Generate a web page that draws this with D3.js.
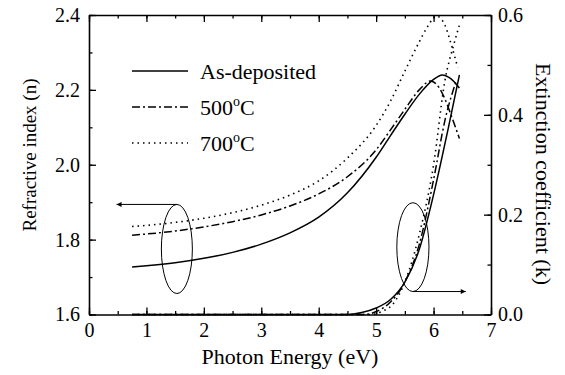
<!DOCTYPE html>
<html>
<head>
<meta charset="utf-8">
<script src="https://cdn.jsdelivr.net/npm/d3@7"></script>
<style>
  body { margin: 0; background: #fff; }
  svg text { font-family: "Liberation Serif", "Times New Roman", "DejaVu Serif", serif !important; fill: #000; }
</style>
</head>
<body>
<div id="chart"></div>
<script>
// refractive index n
var eAsDepN = [0.75, 1, 1.5, 2, 2.5, 3, 3.5, 4, 4.5, 5, 5.25, 5.5, 5.75, 6, 6.15, 6.3, 6.45];
var nAsDep  = [1.727, 1.730, 1.738, 1.750, 1.766, 1.788, 1.818, 1.860, 1.925, 2.020, 2.078, 2.135, 2.188, 2.228, 2.240, 2.230, 2.205];
var e500N = [0.75, 1, 1.5, 2, 2.5, 3, 3.5, 4, 4.5, 5, 5.25, 5.5, 5.75, 5.95, 6.1, 6.2, 6.3, 6.45];
var n500  = [1.812, 1.815, 1.823, 1.834, 1.848, 1.866, 1.890, 1.922, 1.968, 2.040, 2.093, 2.148, 2.200, 2.224, 2.205, 2.175, 2.135, 2.070];
var e700N = [0.75, 1, 1.5, 2, 2.5, 3, 3.5, 4, 4.5, 5, 5.25, 5.5, 5.75, 5.9, 6.05, 6.2, 6.3, 6.42];
var n700  = [1.835, 1.838, 1.846, 1.857, 1.872, 1.892, 1.919, 1.957, 2.018, 2.105, 2.170, 2.250, 2.328, 2.370, 2.397, 2.372, 2.325, 2.260];

// extinction coefficient k
var eAsDepK = [0.75, 4.5, 4.75, 5, 5.25, 5.5, 5.75, 6, 6.25, 6.45];
var kAsDep  = [0, 0, 0.004, 0.013, 0.030, 0.065, 0.130, 0.240, 0.370, 0.480];
var e500K = [0.75, 4.8, 5, 5.25, 5.5, 5.75, 6, 6.2, 6.4];
var k500  = [0, 0, 0.006, 0.025, 0.065, 0.140, 0.270, 0.390, 0.470];
var e700K = [0.75, 4.9, 5.1, 5.3, 5.5, 5.75, 6, 6.2, 6.35, 6.45];
var k700  = [0, 0, 0.006, 0.022, 0.065, 0.160, 0.300, 0.470, 0.540, 0.580];

var seriesNames = ["As-deposited", "500", "700"];
var xTicks = [0, 1, 2, 3, 4, 5, 6, 7];
var nTicks = [1.6, 1.8, 2.0, 2.2, 2.4];
var kTicks = [0.0, 0.2, 0.4, 0.6];

var W = 565, H = 375;
var FONT = "'Liberation Serif', 'Times New Roman', 'DejaVu Serif', serif";
var margin = {top: 15, right: 74, bottom: 60.5, left: 89},
    width = W - margin.left - margin.right,
    height = H - margin.top - margin.bottom;

var svg = d3.select("#chart").append("svg")
  .attr("width", W).attr("height", H)
  .attr("font-family", FONT);
var g = svg.append("g")
  .attr("transform", "translate(" + margin.left + "," + margin.top + ")");

var x = d3.scaleLinear().domain([0, 7]).range([0, width]);
var yN = d3.scaleLinear().domain([1.6, 2.4]).range([height, 0]);
var yK = d3.scaleLinear().domain([0, 0.6]).range([height, 0]);

var styles = [
  {dash: null, w: 1.5},
  {dash: "8,3,2,3", w: 1.5},
  {dash: "1.5,4", w: 1.6}
];

// axes with inward ticks
function minorTicks(scale, step) {
  var d = scale.domain(), out = [];
  for (var v = d[0]; v <= d[1] + 1e-9; v += step) out.push(+v.toFixed(3));
  return out;
}
function frame(axis, minorVals, majorVals, transform, fmt) {
  g.append("g").attr("transform", transform)
    .call(axis.tickValues(minorVals).tickSize(-3.5).tickFormat(""))
    .call(function(s){ s.select(".domain").remove(); s.selectAll("line").attr("stroke", "#000").attr("stroke-width", 1.3); });
  var a = g.append("g").attr("transform", transform)
    .call(axis.tickValues(majorVals).tickSize(-7).tickSizeOuter(0).tickPadding(10).tickFormat(fmt))
    .attr("font-family", FONT).attr("font-size", 20);
  a.select(".domain").attr("stroke", "#000").attr("stroke-width", 1.6);
  a.selectAll("line").attr("stroke", "#000").attr("stroke-width", 1.3);
  a.selectAll("text").attr("fill", "#000").style("font-size", "20px");
  return a;
}
frame(d3.axisBottom(x), minorTicks(x, 0.5), xTicks, "translate(0," + height + ")", d3.format("d"))
  .selectAll("text").attr("dy", "0.66em").attr("y", 9);
frame(d3.axisTop(x), minorTicks(x, 0.5), xTicks, "translate(0,0)", function(){ return ""; });
frame(d3.axisLeft(yN), minorTicks(yN, 0.1), nTicks, "translate(0,0)", d3.format(".1f"))
  .selectAll("text").attr("x", -9);
frame(d3.axisRight(yK), minorTicks(yK, 0.1), kTicks, "translate(" + width + ",0)", d3.format(".1f"))
  .selectAll("text").attr("x", 7);

// curves
function draw(es, vs, yScale, style) {
  var pts = es.map(function(e, i){ return [e, vs[i]]; });
  var line = d3.line()
    .x(function(d){ return x(d[0]); })
    .y(function(d){ return yScale(d[1]); })
    .curve(d3.curveMonotoneX);
  g.append("path").datum(pts)
    .attr("d", line)
    .attr("fill", "none")
    .attr("stroke", "#000")
    .attr("stroke-width", style.w)
    .attr("stroke-dasharray", style.dash);
}
draw(eAsDepN, nAsDep, yN, styles[0]);
draw(e500N, n500, yN, styles[1]);
draw(e700N, n700, yN, styles[2]);
draw(eAsDepK, kAsDep, yK, styles[0]);
draw(e500K, k500, yK, styles[1]);
draw(e700K, k700, yK, styles[2]);

// ellipse + arrow annotations
svg.append("defs").append("marker")
  .attr("id", "head").attr("viewBox", "0 0 10 10")
  .attr("refX", 10).attr("refY", 5)
  .attr("markerWidth", 7).attr("markerHeight", 5)
  .attr("markerUnits", "userSpaceOnUse")
  .attr("orient", "auto")
  .append("path").attr("d", "M0,0L10,5L0,10z").attr("fill", "#000");

var leftEl = {e: 1.53, v: 1.775, re: 0.27, rv: 0.119, arrowTo: 0.48};
var rightEl = {e: 5.64, v: 0.135, re: 0.28, rv: 0.089, arrowTo: 6.56};

g.append("ellipse")
  .attr("cx", x(leftEl.e)).attr("cy", yN(leftEl.v))
  .attr("rx", x(leftEl.re) - x(0)).attr("ry", yN(1.6) - yN(1.6 + leftEl.rv))
  .attr("fill", "none").attr("stroke", "#000").attr("stroke-width", 1);
g.append("line")
  .attr("x1", x(leftEl.e)).attr("y1", yN(leftEl.v + leftEl.rv))
  .attr("x2", x(leftEl.arrowTo)).attr("y2", yN(leftEl.v + leftEl.rv))
  .attr("stroke", "#000").attr("stroke-width", 1)
  .attr("marker-end", "url(#head)");

g.append("ellipse")
  .attr("cx", x(rightEl.e)).attr("cy", yK(rightEl.v))
  .attr("rx", x(rightEl.re) - x(0)).attr("ry", yK(0) - yK(rightEl.rv))
  .attr("fill", "none").attr("stroke", "#000").attr("stroke-width", 1);
g.append("line")
  .attr("x1", x(rightEl.e)).attr("y1", yK(rightEl.v - rightEl.rv))
  .attr("x2", x(rightEl.arrowTo)).attr("y2", yK(rightEl.v - rightEl.rv))
  .attr("stroke", "#000").attr("stroke-width", 1)
  .attr("marker-end", "url(#head)");

// legend
var legend = svg.append("g").attr("transform", "translate(132,0)");
var rowY = [79, 115, 151];
seriesNames.forEach(function(name, i) {
  legend.append("line")
    .attr("x1", 0).attr("x2", 56)
    .attr("y1", rowY[i] - 8).attr("y2", rowY[i] - 8)
    .attr("stroke", "#000")
    .attr("stroke-width", styles[i].w)
    .attr("stroke-dasharray", styles[i].dash);
  var t = legend.append("text").attr("x", 68).attr("y", rowY[i]).style("font-size", "22px");
  if (i == 0) {
    t.text(name);
  } else {
    t.append("tspan").text(name);
    t.append("tspan").attr("dy", -9).style("font-size", "14px").text("o");
    t.append("tspan").attr("dy", 9).text("C");
  }
});

// axis titles
svg.append("text")
  .attr("x", margin.left + width / 2).attr("y", 364)
  .attr("text-anchor", "middle").style("font-size", "22px")
  .text("Photon Energy (eV)");
svg.append("text")
  .attr("transform", "translate(36," + 155 + ") rotate(-90)")
  .attr("text-anchor", "middle").style("font-size", "19px")
  .text("Refractive index (n)");
svg.append("text")
  .attr("transform", "translate(536," + 174 + ") rotate(90)")
  .attr("text-anchor", "middle").style("font-size", "22px")
  .text("Extinction coefficient (k)");
</script>
</body>
</html>
